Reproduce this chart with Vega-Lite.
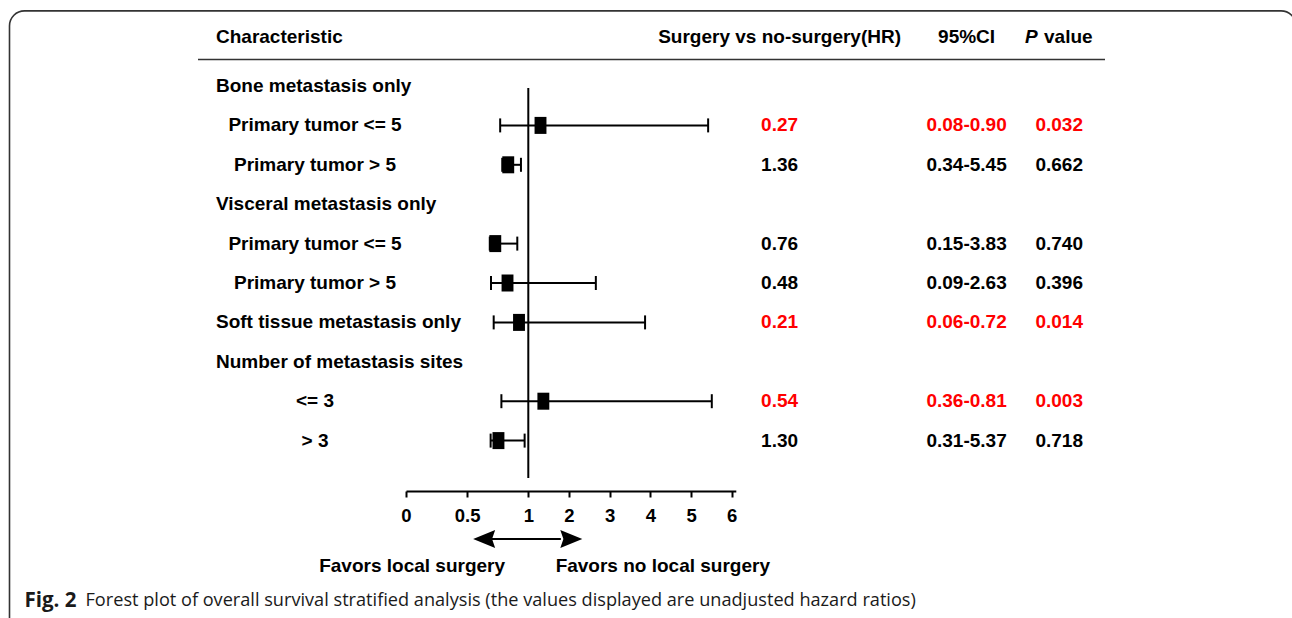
{
  "$schema": "https://vega.github.io/schema/vega-lite/v6.json",
  "width": 1292,
  "height": 618,
  "autosize": "none",
  "padding": 0,
  "background": "white",
  "config": {"view": {"stroke": null}},
  "datasets": {
    "forest": [
      {"line": 1, "lo": 0.77, "hr": 1.30, "hi": 5.42},
      {"line": 2, "lo": 0.787, "hr": 0.836, "hi": 0.94},
      {"line": 4, "lo": 0.685, "hr": 0.73, "hi": 0.91},
      {"line": 5, "lo": 0.695, "hr": 0.83, "hi": 2.66},
      {"line": 6, "lo": 0.717, "hr": 0.924, "hi": 3.87},
      {"line": 8, "lo": 0.78, "hr": 1.37, "hi": 5.51},
      {"line": 9, "lo": 0.692, "hr": 0.756, "hi": 0.97}
    ],
    "labels": [
      {"kind": "left", "line": -1, "col": 0, "text": "Characteristic", "sig": "no"},
      {"kind": "left", "line": -1, "col": 1, "text": "value", "sig": "no"},
      {"kind": "italic", "line": -1, "col": 0, "text": "P", "sig": "no"},
      {"kind": "center", "line": -1, "col": 3, "text": "Surgery vs no-surgery(HR)", "sig": "no"},
      {"kind": "center", "line": -1, "col": 4, "text": "95%CI", "sig": "no"},
      {"kind": "left", "line": 0, "col": 0, "text": "Bone metastasis only", "sig": "no"},
      {"kind": "center", "line": 1, "col": 0, "text": "Primary tumor <= 5", "sig": "no"},
      {"kind": "center", "line": 1, "col": 3, "text": "0.27", "sig": "yes"},
      {"kind": "center", "line": 1, "col": 4, "text": "0.08-0.90", "sig": "yes"},
      {"kind": "center", "line": 1, "col": 5, "text": "0.032", "sig": "yes"},
      {"kind": "center", "line": 2, "col": 0, "text": "Primary tumor > 5", "sig": "no"},
      {"kind": "center", "line": 2, "col": 3, "text": "1.36", "sig": "no"},
      {"kind": "center", "line": 2, "col": 4, "text": "0.34-5.45", "sig": "no"},
      {"kind": "center", "line": 2, "col": 5, "text": "0.662", "sig": "no"},
      {"kind": "left", "line": 3, "col": 0, "text": "Visceral metastasis only", "sig": "no"},
      {"kind": "center", "line": 4, "col": 0, "text": "Primary tumor <= 5", "sig": "no"},
      {"kind": "center", "line": 4, "col": 3, "text": "0.76", "sig": "no"},
      {"kind": "center", "line": 4, "col": 4, "text": "0.15-3.83", "sig": "no"},
      {"kind": "center", "line": 4, "col": 5, "text": "0.740", "sig": "no"},
      {"kind": "center", "line": 5, "col": 0, "text": "Primary tumor > 5", "sig": "no"},
      {"kind": "center", "line": 5, "col": 3, "text": "0.48", "sig": "no"},
      {"kind": "center", "line": 5, "col": 4, "text": "0.09-2.63", "sig": "no"},
      {"kind": "center", "line": 5, "col": 5, "text": "0.396", "sig": "no"},
      {"kind": "left", "line": 6, "col": 0, "text": "Soft tissue metastasis only", "sig": "no"},
      {"kind": "center", "line": 6, "col": 3, "text": "0.21", "sig": "yes"},
      {"kind": "center", "line": 6, "col": 4, "text": "0.06-0.72", "sig": "yes"},
      {"kind": "center", "line": 6, "col": 5, "text": "0.014", "sig": "yes"},
      {"kind": "left", "line": 7, "col": 0, "text": "Number of metastasis sites", "sig": "no"},
      {"kind": "center", "line": 8, "col": 0, "text": "<= 3", "sig": "no"},
      {"kind": "center", "line": 8, "col": 3, "text": "0.54", "sig": "yes"},
      {"kind": "center", "line": 8, "col": 4, "text": "0.36-0.81", "sig": "yes"},
      {"kind": "center", "line": 8, "col": 5, "text": "0.003", "sig": "yes"},
      {"kind": "center", "line": 9, "col": 0, "text": "> 3", "sig": "no"},
      {"kind": "center", "line": 9, "col": 3, "text": "1.30", "sig": "no"},
      {"kind": "center", "line": 9, "col": 4, "text": "0.31-5.37", "sig": "no"},
      {"kind": "center", "line": 9, "col": 5, "text": "0.718", "sig": "no"},
      {"kind": "center", "line": 12, "col": 1, "text": "Favors local surgery", "sig": "no"},
      {"kind": "center", "line": 12, "col": 2, "text": "Favors no local surgery", "sig": "no"},
      {"kind": "capbold", "line": 13, "col": 0, "text": "Fig. 2", "sig": "no"},
      {"kind": "cap", "line": 13, "col": 1, "text": "Forest plot of overall survival stratified analysis (the values displayed are unadjusted hazard ratios)", "sig": "no"}
    ]
  },
  "resolve": {"scale": {"x": "independent"}},
  "layer": [
    {
      "data": {"values": [{}]},
      "mark": {"type": "rect", "filled": false, "stroke": "#333333", "strokeWidth": 1.6, "cornerRadius": 15},
      "encoding": {
        "x": {"datum": 0, "type": "quantitative", "scale": {"domain": [0, 1], "range": [9.5, 1296], "nice": false, "zero": false}, "axis": null},
        "x2": {"datum": 1},
        "y": {"datum": -1.58, "type": "quantitative", "scale": {"domain": [-1, -0.5, 0, 9, 10, 11, 12, 13], "range": [37, 59.5, 86, 440.6, 491, 539, 566, 600.8], "nice": false, "zero": false}, "axis": null},
        "y2": {"datum": 14}
      }
    },
    {
      "data": {"values": [{}]},
      "mark": {"type": "rule", "color": "#333333", "strokeWidth": 1.5},
      "encoding": {
        "x": {"datum": 0, "type": "quantitative", "scale": {"domain": [0, 1], "range": [198, 1105], "nice": false, "zero": false}, "axis": null},
        "x2": {"datum": 1},
        "y": {"datum": -0.5, "type": "quantitative", "axis": null}
      }
    },
    {
      "data": {"values": [{}]},
      "mark": {"type": "rule", "color": "#000000", "strokeWidth": 2},
      "encoding": {
        "x": {"datum": 1, "type": "quantitative", "scale": {"domain": [0, 1, 6.1], "range": [406, 528.3, 735.8], "nice": false, "zero": false}, "axis": null},
        "y": {"datum": 0.05, "type": "quantitative", "axis": null},
        "y2": {"datum": 9.74}
      }
    },
    {
      "data": {"name": "forest"},
      "mark": {"type": "rule", "color": "#000000", "strokeWidth": 2},
      "encoding": {
        "x": {"field": "lo", "type": "quantitative", "scale": {"domain": [0, 1, 6.1], "range": [406, 528.3, 735.8], "nice": false, "zero": false},
          "axis": {"values": [0, 0.5, 1, 2, 3, 4, 5, 6], "format": "~g", "orient": "bottom", "offset": -127, "domainColor": "#000000", "domainWidth": 2, "tickColor": "#000000", "tickWidth": 2, "tickSize": 6, "labelFont": "Liberation Sans", "labelFontSize": 18.5, "labelFontWeight": "bold", "labelColor": "#000000", "labelPadding": 9, "labelFlush": false, "labelOverlap": false, "grid": false, "title": null}},
        "x2": {"field": "hi"},
        "y": {"field": "line", "type": "quantitative", "axis": null}
      }
    },
    {
      "data": {"name": "forest"},
      "mark": {"type": "tick", "orient": "vertical", "size": 14, "thickness": 2, "color": "#000000", "opacity": 1},
      "encoding": {
        "x": {"field": "lo", "type": "quantitative", "scale": {"domain": [0, 1, 6.1], "range": [406, 528.3, 735.8], "nice": false, "zero": false}, "axis": null},
        "y": {"field": "line", "type": "quantitative", "axis": null}
      }
    },
    {
      "data": {"name": "forest"},
      "mark": {"type": "tick", "orient": "vertical", "size": 14, "thickness": 2, "color": "#000000", "opacity": 1},
      "encoding": {
        "x": {"field": "hi", "type": "quantitative", "scale": {"domain": [0, 1, 6.1], "range": [406, 528.3, 735.8], "nice": false, "zero": false}, "axis": null},
        "y": {"field": "line", "type": "quantitative", "axis": null}
      }
    },
    {
      "data": {"name": "forest"},
      "mark": {"type": "point", "shape": "M-0.7,-1L0.7,-1L0.7,1L-0.7,1Z", "size": 289, "filled": true, "color": "#000000", "opacity": 1, "strokeWidth": 0},
      "encoding": {
        "x": {"field": "hr", "type": "quantitative", "scale": {"domain": [0, 1, 6.1], "range": [406, 528.3, 735.8], "nice": false, "zero": false}, "axis": null},
        "y": {"field": "line", "type": "quantitative", "axis": null}
      }
    },
    {
      "data": {"values": [{}]},
      "mark": {"type": "rule", "color": "#000000", "strokeWidth": 2},
      "encoding": {
        "x": {"datum": 0.70, "type": "quantitative", "scale": {"domain": [0, 1, 6.1], "range": [406, 528.3, 735.8], "nice": false, "zero": false}, "axis": null},
        "x2": {"datum": 1.8},
        "y": {"datum": 11, "type": "quantitative", "axis": null}
      }
    },
    {
      "data": {"values": [{}]},
      "mark": {"type": "point", "shape": "M-1,0L1,-0.82L0.72,0L1,0.82Z", "size": 484, "filled": true, "color": "#000000", "opacity": 1, "strokeWidth": 0},
      "encoding": {
        "x": {"datum": 0.639, "type": "quantitative", "scale": {"domain": [0, 1, 6.1], "range": [406, 528.3, 735.8], "nice": false, "zero": false}, "axis": null},
        "y": {"datum": 11, "type": "quantitative", "axis": null}
      }
    },
    {
      "data": {"values": [{}]},
      "mark": {"type": "point", "shape": "M1,0L-1,-0.82L-0.72,0L-1,0.82Z", "size": 484, "filled": true, "color": "#000000", "opacity": 1, "strokeWidth": 0},
      "encoding": {
        "x": {"datum": 2.057, "type": "quantitative", "scale": {"domain": [0, 1, 6.1], "range": [406, 528.3, 735.8], "nice": false, "zero": false}, "axis": null},
        "y": {"datum": 11, "type": "quantitative", "axis": null}
      }
    },
    {
      "data": {"name": "labels"},
      "transform": [{"filter": "datum.kind === 'left'"}],
      "mark": {"type": "text", "font": "Liberation Sans", "fontSize": 19, "fontWeight": "bold", "align": "left", "baseline": "middle", "color": "#000000"},
      "encoding": {
        "x": {"field": "col", "type": "quantitative", "scale": {"domain": [0, 1], "range": [216, 1044], "nice": false, "zero": false}, "axis": null},
        "y": {"field": "line", "type": "quantitative", "axis": null},
        "text": {"field": "text"}
      }
    },
    {
      "data": {"name": "labels"},
      "transform": [{"filter": "datum.kind === 'italic'"}],
      "mark": {"type": "text", "font": "Liberation Sans", "fontSize": 19, "fontWeight": "bold", "fontStyle": "italic", "align": "left", "baseline": "middle", "color": "#000000"},
      "encoding": {
        "x": {"field": "col", "type": "quantitative", "scale": {"domain": [0, 1], "range": [1025, 1100], "nice": false, "zero": false}, "axis": null},
        "y": {"field": "line", "type": "quantitative", "axis": null},
        "text": {"field": "text"}
      }
    },
    {
      "data": {"name": "labels"},
      "transform": [{"filter": "datum.kind === 'center'"}],
      "mark": {"type": "text", "font": "Liberation Sans", "fontSize": 19, "fontWeight": "bold", "align": "center", "baseline": "middle"},
      "encoding": {
        "x": {"field": "col", "type": "quantitative", "scale": {"domain": [0, 1, 2, 3, 4, 5], "range": [315, 412.1, 662.8, 779.6, 966.6, 1059.2], "nice": false, "zero": false}, "axis": null},
        "y": {"field": "line", "type": "quantitative", "axis": null},
        "text": {"field": "text"},
        "color": {"field": "sig", "type": "nominal", "scale": {"domain": ["yes", "no"], "range": ["#ff0000", "#000000"]}, "legend": null}
      }
    },
    {
      "data": {"name": "labels"},
      "transform": [{"filter": "datum.kind === 'capbold'"}],
      "mark": {"type": "text", "font": "Open Sans", "fontSize": 20.5, "fontWeight": "bold", "align": "left", "baseline": "middle", "color": "#1a1a1a"},
      "encoding": {
        "x": {"field": "col", "type": "quantitative", "scale": {"domain": [0, 1], "range": [24.5, 85.5], "nice": false, "zero": false}, "axis": null},
        "y": {"field": "line", "type": "quantitative", "axis": null},
        "text": {"field": "text"}
      }
    },
    {
      "data": {"name": "labels"},
      "transform": [{"filter": "datum.kind === 'cap'"}],
      "mark": {"type": "text", "font": "Open Sans", "fontSize": 18.15, "fontWeight": "normal", "align": "left", "baseline": "middle", "color": "#1a1a1a"},
      "encoding": {
        "x": {"field": "col", "type": "quantitative", "scale": {"domain": [0, 1], "range": [24.5, 85.5], "nice": false, "zero": false}, "axis": null},
        "y": {"field": "line", "type": "quantitative", "axis": null},
        "text": {"field": "text"}
      }
    }
  ]
}
